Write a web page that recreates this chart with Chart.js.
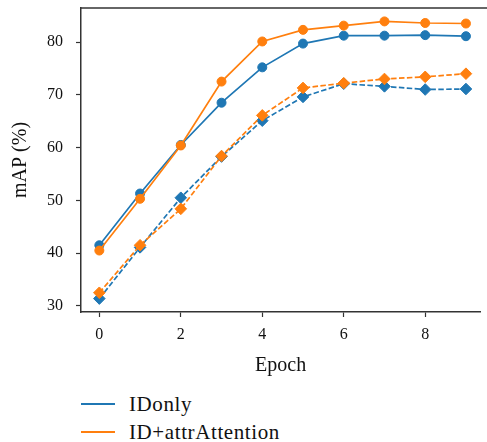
<!DOCTYPE html>
<html>
<head>
<meta charset="utf-8">
<script src="https://cdn.jsdelivr.net/npm/chart.js@4"></script>
<style>
  html, body { margin: 0; padding: 0; background: #fff; overflow: hidden; }
  #wrap { position: relative; width: 487px; height: 442px; }
  #chart { position: absolute; left: 0; top: 0; }
  .leg { position: absolute; left: 81px; height: 24px; font-family: "Liberation Serif", serif;
         font-size: 21px; letter-spacing: 0.6px; color: #111; line-height: 24px; white-space: nowrap; }
  .leg span.ln { position: absolute; left: 0; top: 11px; width: 34px; height: 1.5px; }
  .leg span.tx { position: absolute; left: 48px; top: 0; }
</style>
</head>
<body>
<div id="wrap">
  <canvas id="chart" width="487" height="390"></canvas>
  <div class="leg" style="top:392px"><span class="ln" style="background:#1f77b4"></span><span class="tx">IDonly</span></div>
  <div class="leg" style="top:420px"><span class="ln" style="background:#ff7f0e"></span><span class="tx">ID+attrAttention</span></div>
</div>
<script>
// data
const epochs = [0, 1, 2, 3, 4, 5, 6, 7, 8, 9];
const idOnlySolid = [41.5, 51.3, 60.5, 68.5, 75.2, 79.7, 81.2, 81.2, 81.3, 81.1];
const idOnlyDashed = [31.4, 41.1, 50.5, 58.3, 65.1, 69.6, 72.1, 71.6, 71.0, 71.1];
const attrSolid = [40.5, 50.3, 60.4, 72.5, 80.1, 82.3, 83.1, 83.9, 83.6, 83.5];
const attrDashed = [32.5, 41.5, 48.4, 58.4, 66.1, 71.3, 72.2, 73.0, 73.4, 74.0];
const xTicks = [0, 2, 4, 6, 8];
const yTicks = [30, 40, 50, 60, 70, 80];

const BLUE = '#1f77b4';
const ORANGE = '#ff7f0e';
const SPINE = '#333333';
const FONT = '"Liberation Serif", serif';

function pts(ys) {
    return epochs.map((e, i) => ({ x: e, y: ys[i] }));
}

function series(label, ys, color, dashed, order) {
    return {
        label: label,
        data: pts(ys),
        borderColor: color,
        backgroundColor: color,
        pointBackgroundColor: color,
        pointBorderColor: color,
        borderWidth: 1.7,
        borderDash: dashed ? [5.5, 2.4] : [],
        pointStyle: dashed ? 'rectRot' : 'circle',
        pointRadius: dashed ? 5.8 : 4.5,
        pointBorderWidth: 1,
        tension: 0,
        order: order
    };
}

// top spine (matplotlib style frame, right side is cut off by the crop)
const topSpine = {
    id: 'topSpine',
    afterDraw(chart) {
        const { ctx, chartArea } = chart;
        ctx.save();
        ctx.strokeStyle = SPINE;
        ctx.lineWidth = 1.5;
        ctx.beginPath();
        ctx.moveTo(chartArea.left, chartArea.top);
        ctx.lineTo(chart.width, chartArea.top);
        ctx.stroke();
        ctx.restore();
    }
};

new Chart(document.getElementById('chart'), {
    type: 'line',
    data: {
        datasets: [
            series('IDonly', idOnlySolid, BLUE, false, 3),
            series('IDonly', idOnlyDashed, BLUE, true, 2),
            series('ID+attrAttention', attrSolid, ORANGE, false, 1),
            series('ID+attrAttention', attrDashed, ORANGE, true, 0)
        ]
    },
    options: {
        responsive: false,
        animation: false,
        layout: { padding: { top: 8, right: 1, bottom: 12, left: 0 } },
        plugins: {
            legend: { display: false },
            tooltip: { enabled: false }
        },
        scales: {
            x: {
                type: 'linear',
                min: -0.45,
                max: 9.35,
                afterFit: axis => {
                    axis.height = 66;
                    axis.paddingLeft = 0;
                    axis.paddingRight = 0;
                },
                afterBuildTicks: axis => { axis.ticks = xTicks.map(v => ({ value: v })); },
                grid: { display: true, drawOnChartArea: false, drawTicks: true, tickLength: 5, tickColor: SPINE, tickWidth: 1.2 },
                border: { display: true, color: SPINE, width: 1.5 },
                ticks: { color: '#111', font: { family: FONT, size: 16 }, padding: 8, maxRotation: 0 },
                title: { display: true, text: 'Epoch', color: '#111', font: { family: FONT, size: 20 }, padding: { top: 0, bottom: 0 } }
            },
            y: {
                type: 'linear',
                min: 28.86,
                max: 86.44,
                afterFit: axis => {
                    axis.width = 81;
                    axis.paddingTop = 0;
                    axis.paddingBottom = 0;
                },
                afterBuildTicks: axis => { axis.ticks = yTicks.map(v => ({ value: v })); },
                grid: { display: true, drawOnChartArea: false, drawTicks: true, tickLength: 5, tickColor: SPINE, tickWidth: 1.2 },
                border: { display: true, color: SPINE, width: 1.5 },
                ticks: { color: '#111', font: { family: FONT, size: 16 }, padding: 13 },
                title: { display: true, text: 'mAP (%)', color: '#111', font: { family: FONT, size: 20 }, padding: { top: 9, bottom: 0 } }
            }
        }
    },
    plugins: [topSpine]
});
</script>
</body>
</html>
